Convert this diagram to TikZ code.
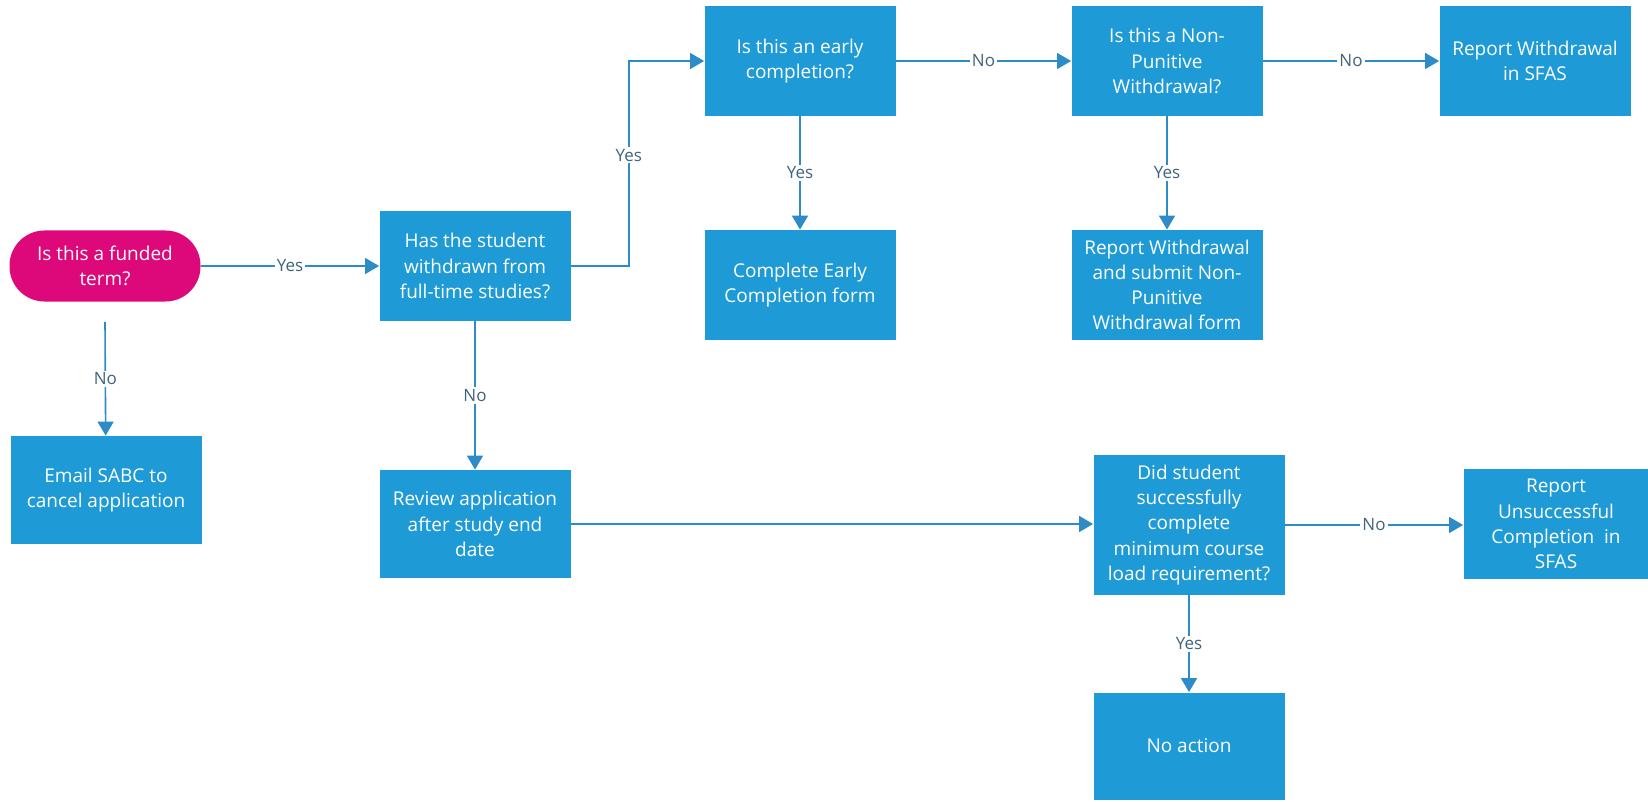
\documentclass[tikz,border=0pt]{standalone}
\usepackage{fontspec}
\setmainfont{Open Sans}
\usetikzlibrary{arrows.meta}
\definecolor{Box-Blue}{RGB}{30,154,214}
\definecolor{Pill-Pink}{RGB}{221,8,122}
\definecolor{Line-Blue}{RGB}{45,140,200}
\definecolor{Label-Grey}{RGB}{65,100,122}

\begin{document}
\begin{tikzpicture}[x=0.5pt, y=-0.5pt]
    \tikzset{ act/.style ={fill=Box-Blue, text=white, align=center, minimum width=95.5pt, minimum height=55pt, inner sep=2pt, font=\fontsize{9.5}{12.6}\selectfont} }
    \tikzset{ pill/.style={act, fill=Pill-Pink, minimum height=35.5pt, rounded corners=17.5pt} }
    \tikzset{ lbl/.style ={fill=white, text=Label-Grey, inner sep=1pt, font=\fontsize{8.5}{10}\selectfont} }
    \tikzset{ flow/.style={draw=Line-Blue, line width=0.8pt, -{Triangle[length=7pt, width=8pt]}} }

    \useasboundingbox (0,0) rectangle (1648,802);

    \node[pill] (fund)    at ( 105, 266) {Is this a funded\\term?};
    \node[act ] (wdr)     at ( 475, 266) {Has the student\\withdrawn from\\full-time studies?};
    \node[act, minimum height=54pt] (email)  at ( 106, 490) {Email SABC to\\cancel application};
    \node[act, minimum height=54pt] (review) at ( 475, 524) {Review application\\after study end\\date};
    \node[act ] (early)   at ( 800,  61) {Is this an early\\completion?};
    \node[act ] (ecform)  at ( 800, 285) {Complete Early\\Completion form};
    \node[act ] (npw)     at (1167,  61) {Is this a Non-\\Punitive\\Withdrawal?};
    \node[act ] (rptw)    at (1535,  61) {Report Withdrawal\\in SFAS};
    \node[act ] (npwform) at (1167, 285) {Report Withdrawal\\and submit Non-\\Punitive\\Withdrawal form};
    \node[act, minimum height=70pt] (mcl)    at (1189, 525) {Did student\\successfully\\complete\\minimum course\\load requirement?};
    \node[act, minimum width=92.5pt] (unsucc) at (1556, 524) {Report\\Unsuccessful\\Completion~ in\\SFAS};
    \node[act, minimum height=53.5pt] (noact) at (1189, 746) {No action};

    \draw[flow] (fund)                       -- (wdr)          node [midway, lbl] {Yes};
    \draw[flow] ([yshift=-10pt]fund.south)   -- (email)        node [midway, lbl] {No};
    \draw[flow] (wdr)                        -- (review)       node [midway, lbl] {No};
    \draw[flow] (wdr.east) -- ++(29pt,0)     |- (early.west)   node [pos=0.27, lbl] {Yes};
    \draw[flow] (early)                      -- (npw)          node [midway, lbl] {No};
    \draw[flow] (early)                      -- (ecform)       node [midway, lbl] {Yes};
    \draw[flow] (npw)                        -- (rptw)         node [midway, lbl] {No};
    \draw[flow] (npw)                        -- (npwform)      node [midway, lbl] {Yes};
    \draw[flow] (review.east)                -- (review.east -| mcl.west);
    \draw[flow] (mcl)                        -- (mcl -| unsucc.west) node [midway, lbl] {No};
    \draw[flow] (mcl)                        -- (noact)        node [midway, lbl] {Yes};

  \end{tikzpicture}
\end{document}
